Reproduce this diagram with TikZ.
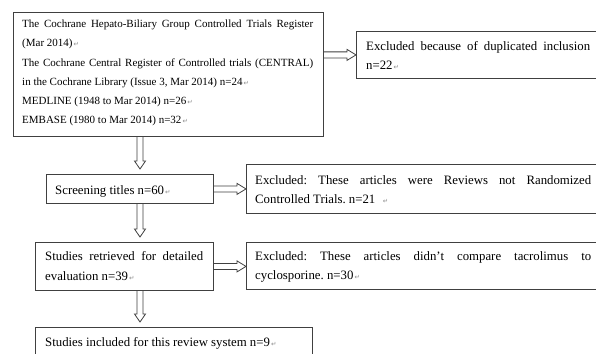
\documentclass[tikz,border=0pt]{standalone}
\usepackage{fontspec}
\setmainfont{Liberation Serif}
\newfontfamily\symfont{DejaVu Sans}
\usetikzlibrary{calc}
\frenchspacing
\newcommand\pmark{{\symfont\fontsize{6.5}{6.5}\selectfont\color{black!45}\,↵}}
\tikzset{
  boxnode/.style={draw=black!75, line width=0.8pt, inner sep=0pt, anchor=north west},
  arrowline/.style={draw=black!75, line width=0.8pt, line join=miter},
  txtsmall/.style={anchor=base west, inner sep=0pt, font=\fontsize{11}{13}\selectfont\frenchspacing},
  txt/.style={anchor=base west, inner sep=0pt, font=\fontsize{12.8}{15}\selectfont\frenchspacing},
}
\newcommand\downarrowhollow[2]{%
  \draw[arrowline] ($(#1)+(-3,0)$) -- ($(#2)+(-3,-8)$) -- ($(#2)+(-5.5,-8)$) -- (#2)
    -- ($(#2)+(5.5,-8)$) -- ($(#2)+(3,-8)$) -- ($(#1)+(3,0)$);}
\newcommand\rightarrowhollow[2]{%
  \draw[arrowline] ($(#1)+(0,-3)$) -- ($(#2)+(-9,-3)$) -- ($(#2)+(-9,-5.5)$) -- (#2)
    -- ($(#2)+(-9,5.5)$) -- ($(#2)+(-9,3)$) -- ($(#1)+(0,3)$);}
\begin{document}
\begin{tikzpicture}[x=1pt,y=-1pt]
\useasboundingbox (0,0) rectangle (596,353);
\clip (0,0) rectangle (596,353);
\fill[white] (0,0) rectangle (596,353);
% boxes
\node[boxnode, minimum width=310pt, minimum height=124pt] (src) at (13,12) {};
\node[boxnode, minimum width=254pt, minimum height=47pt] (ex1) at (356,31) {};
\node[boxnode, minimum width=167pt, minimum height=29pt] (screen) at (46,174) {};
\node[boxnode, minimum width=364pt, minimum height=49pt] (ex2) at (246,164) {};
\node[boxnode, minimum width=178pt, minimum height=48pt] (retr) at (35,242) {};
\node[boxnode, minimum width=364pt, minimum height=47pt] (ex3) at (246,242) {};
\node[boxnode, minimum width=277pt, minimum height=43pt] (incl) at (35,327) {};
% texts
\node[txtsmall] (t1) at (22,28) {\makebox[291pt][s]{The Cochrane Hepato-Biliary Group Controlled Trials Register}};
\node[txtsmall] (t2) at (22,47) {(Mar 2014)\pmark};
\node[txtsmall] (t3) at (22,66.5) {\makebox[291pt][s]{The Cochrane Central Register of Controlled trials (CENTRAL)}};
\node[txtsmall] (t4) at (22,85.5) {in the Cochrane Library (Issue 3, Mar 2014) n=24\pmark};
\node[txtsmall] (t5) at (22,104) {MEDLINE (1948 to Mar 2014) n=26\pmark};
\node[txtsmall] (t6) at (22,123) {EMBASE (1980 to Mar 2014) n=32\pmark};
\node[txt] (e1a) at (366,50) {\makebox[224pt][s]{Excluded because of duplicated inclusion}};
\node[txt] (e1b) at (366,69) {n=22\pmark};
\node[txt] (s1) at (55,194) {Screening titles n=60\pmark};
\node[txt] (e2a) at (255,184) {\makebox[336pt][s]{Excluded: These articles were Reviews not Randomized}};
\node[txt] (e2b) at (255,203) {Controlled Trials. n=21\ \ \pmark};
\node[txt] (r1) at (45,260) {\makebox[158pt][s]{Studies retrieved for detailed}};
\node[txt] (r2) at (45,280) {evaluation n=39\pmark};
\node[txt] (e3a) at (255,260) {\makebox[336pt][s]{Excluded: These articles didn’t compare tacrolimus to}};
\node[txt] (e3b) at (255,279) {cyclosporine. n=30\pmark};
\node[txt] (i1) at (45,346) {Studies included for this review system n=9\pmark};
% arrows
\coordinate (ax) at (140,0);
\coordinate (d1s) at (src.south -| ax);
\coordinate (d1e) at ($(screen.north -| ax)+(0,-5)$);
\coordinate (d2s) at (screen.south -| ax);
\coordinate (d2e) at ($(retr.north -| ax)+(0,-5)$);
\coordinate (d3s) at (retr.south -| ax);
\coordinate (d3e) at ($(incl.north -| ax)+(0,-5)$);
\downarrowhollow{d1s}{d1e}
\downarrowhollow{d2s}{d2e}
\downarrowhollow{d3s}{d3e}
\coordinate (h1s) at (ex1.west -| src.east);
\coordinate (h2e) at (screen.east -| ex2.west);
\coordinate (h3e) at (retr.east -| ex3.west);
\rightarrowhollow{h1s}{ex1.west}
\rightarrowhollow{screen.east}{h2e}
\rightarrowhollow{retr.east}{h3e}
\end{tikzpicture}
\end{document}
